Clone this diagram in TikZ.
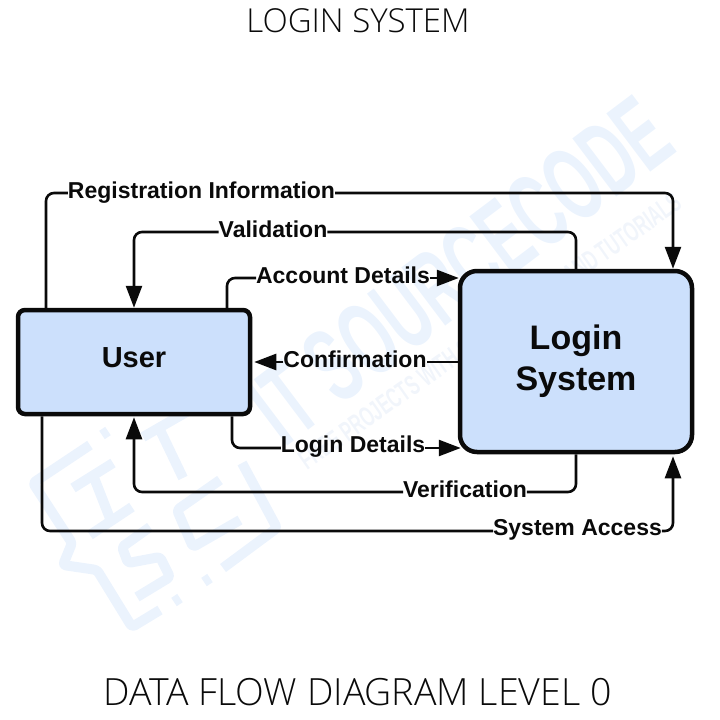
\documentclass[tikz,border=0pt]{standalone}
\usepackage{fontspec}
\setmainfont{Liberation Sans}
\newfontfamily\titlefont{Open Sans Light}
\usetikzlibrary{arrows.meta,calc}
\definecolor{boxfill}{HTML}{CCE0FC}
\definecolor{ink}{HTML}{0A0A0A}
\definecolor{wm}{HTML}{EBF3FD}
\definecolor{wmsoft}{HTML}{F1F5FB}
\tikzset{
  every node/.style={inner sep=0pt,outer sep=0pt},
  toptitle/.style={font=\titlefont\fontsize{33}{33}\selectfont,text=ink},
  bottomtitle/.style={font=\titlefont\fontsize{37.5}{38}\selectfont,text=ink},
  flowbox/.style={draw=ink,fill=boxfill,line width=4.5pt,outer sep=2.25pt},
  boxtext/.style={text=ink,align=center},
  flowlabel/.style={font=\bfseries\fontsize{23}{24}\selectfont,text=ink,anchor=base},
  flow/.style={draw=ink,line width=2.6pt,rounded corners=8pt},
  flowarrow/.style={flow,-{Triangle[length=22pt,width=16pt]}},
  wmline/.style={draw=wm,line width=10pt,rounded corners=3pt,line join=round},
  wmdot/.style={draw=wm,line width=10pt}
}
\begin{document}
\begin{tikzpicture}[x=1pt,y=-1pt]
\useasboundingbox (0,0) rectangle (720,720);
% watermark
\node[text=wm,font=\bfseries\fontsize{106}{106}\selectfont,rotate=37,xscale=.56] (wmark) at (460,270) {IT SOURCECODE};
\node[text=wmsoft,font=\bfseries\fontsize{28}{28}\selectfont,rotate=35,xscale=.6] (wmsub) at (490,331) {FREE PROJECTS WITH SOURCE CODE AND TUTORIALS};
\draw[wmline] (90,445) -- (33,483) -- (72,543) -- (63,565) -- (97,570) -- (132,627) -- (160,610);
\draw[wmline] (223,568) -- (277,528) -- (242,463);
\draw[wmdot] (102,435) -- (108,431);
\draw[wmdot] (174,602) -- (180,598);
\draw[wmdot] (204,582) -- (210,578);
\draw[wmline] (73,488) -- (113,463);
\draw[wmline] (93,475) -- (111,521);
\draw[wmline] (90,535) -- (132,507);
\draw[wmline] (160,430) -- (183,478);
\draw[wmline] (143,437) -- (190,410);
\draw[wmline] (150,527) -- (122,547) -- (128,563) -- (160,557) -- (170,577) -- (137,597);
\draw[wmline] (220,480) -- (177,510) -- (193,547) -- (240,520);
% titles
\node[toptitle] (t1) at (358,21) {LOGIN SYSTEM};
\node[bottomtitle] (t2) at (357.5,692) {DATA FLOW DIAGRAM LEVEL 0};
% boxes
\node[flowbox,rounded corners=7pt,minimum width=232pt,minimum height=104pt] (user) at (134,362) {};
\node[flowbox,rounded corners=17pt,minimum width=232pt,minimum height=181pt] (login) at (576,361.5) {};
\node[boxtext,font=\bfseries\fontsize{29}{34}\selectfont,anchor=base] (usertext) at (134,367) {User};
\node[boxtext,font=\bfseries\fontsize{34}{41}\selectfont] (logintext) at (576,361) {Login\\System};
% labels
\node[flowlabel] (reg) at (201.5,198) {Registration Information};
\node[flowlabel] (val) at (273,237) {Validation};
\node[flowlabel] (acc) at (343,283) {Account Details};
\node[flowlabel] (con) at (355,367) {Confirmation};
\node[flowlabel] (log) at (353,452) {Login Details};
\node[flowlabel] (ver) at (465,497) {Verification};
\node[flowlabel] (sys) at (577.5,535) {System Access};
% connectors
\coordinate (r1) at (46,193); \coordinate (r2) at (673,193);
\draw[flow] (user.north -| r1) |- (r1 -| reg.west);
\draw[flowarrow] (r2 -| reg.east) -| (login.north -| r2);
\coordinate (v1) at (576,232); \coordinate (v2) at (134,232);
\draw[flow] (login.north -| v1) |- (v1 -| val.east);
\draw[flowarrow] (v2 -| val.west) -| (user.north -| v2);
\coordinate (a1) at (227,278);
\draw[flow] (user.north -| a1) |- (a1 -| acc.west);
\draw[flowarrow] (a1 -| acc.east) -- ($(a1 -| login.west)+(1,0)$);
\coordinate (c1) at (360,362);
\draw[flow] (c1 -| login.west) -- (c1 -| con.east);
\draw[flowarrow] (c1 -| con.west) -- ($(c1 -| user.east)+(2,0)$);
\coordinate (l1) at (232,448);
\draw[flow] (user.south -| l1) |- (l1 -| log.west);
\draw[flowarrow] (l1 -| log.east) -- ($(l1 -| login.west)+(3,0)$);
\coordinate (e1) at (576,492); \coordinate (e2) at (134,492);
\draw[flow] (login.south -| e1) |- (e1 -| ver.east);
\draw[flowarrow] (e1 -| ver.west) -| ($(user.south -| e2)+(0,1)$);
\coordinate (s1) at (42,531); \coordinate (s2) at (673,531);
\draw[flow] (user.south -| s1) |- (s1 -| sys.west);
\draw[flowarrow] (s2 -| sys.east) -| ($(login.south -| s2)+(0,2)$);
\end{tikzpicture}
\end{document}
